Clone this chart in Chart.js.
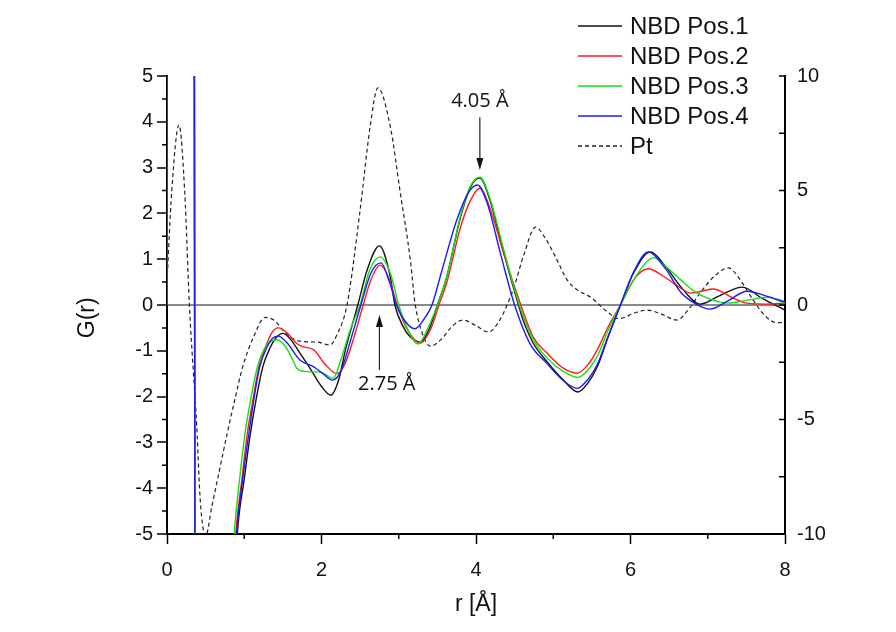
<!DOCTYPE html>
<html>
<head>
<meta charset="utf-8">
<script src="https://cdn.jsdelivr.net/npm/chart.js@4.4.1/dist/chart.umd.min.js"></script>
<style>
  html, body { margin: 0; padding: 0; background: #ffffff; }
  #wrap { width: 896px; height: 632px; }
</style>
</head>
<body>
<div id="wrap"><canvas id="c" width="896" height="632"></canvas></div>
<script>
// ---------------- data ----------------
const seriesNames = ['NBD Pos.1', 'NBD Pos.2', 'NBD Pos.3', 'NBD Pos.4', 'Pt'];

const rPos1 = [0, 0.005, 0.35, 0.365, 0.6, 0.85, 0.91, 1.0, 1.08, 1.16, 1.24, 1.33, 1.42, 1.5, 1.6, 1.72, 1.85, 2.0, 2.12, 2.22, 2.31, 2.47, 2.59, 2.75, 2.89, 2.95, 3.05, 3.15, 3.28, 3.4, 3.5, 3.62, 3.8, 3.93, 4.05, 4.18, 4.35, 4.55, 4.61, 4.74, 4.92, 5.13, 5.32, 5.45, 5.57, 5.71, 5.87, 6.04, 6.26, 6.45, 6.65, 6.9, 7.15, 7.45, 7.7, 8.0];
const gPos1 = [0, 12, 12, -12, -20, -7, -5, -3.8, -2.8, -2.0, -1.35, -0.95, -0.7, -0.62, -0.75, -1.05, -1.38, -1.78, -1.97, -1.65, -0.98, 0, 0.76, 1.29, 0.62, 0, -0.45, -0.7, -0.81, -0.5, 0, 0.61, 1.92, 2.58, 2.77, 2.29, 1.2, 0, -0.33, -0.83, -1.24, -1.64, -1.9, -1.7, -1.35, -0.7, 0, 0.7, 1.16, 0.85, 0.4, 0.02, 0.2, 0.39, 0.15, -0.11];

const rPos2 = [0, 0.005, 0.35, 0.365, 0.6, 0.83, 0.89, 0.97, 1.04, 1.12, 1.19, 1.28, 1.36, 1.44, 1.55, 1.68, 1.76, 1.9, 2.05, 2.2, 2.3, 2.4, 2.54, 2.64, 2.76, 2.88, 2.98, 3.1, 3.28, 3.42, 3.52, 3.62, 3.8, 3.93, 4.05, 4.18, 4.36, 4.58, 4.74, 4.92, 5.13, 5.31, 5.45, 5.57, 5.71, 5.87, 6.04, 6.23, 6.45, 6.65, 6.78, 6.92, 7.07, 7.33, 7.51, 7.75, 8.0];
const gPos2 = [0, 12, 12, -12, -20, -7, -5, -3.8, -2.8, -2.0, -1.35, -0.9, -0.6, -0.5, -0.6, -0.84, -0.91, -0.98, -1.3, -1.5, -1.3, -0.82, 0, 0.55, 0.87, 0.55, 0, -0.5, -0.83, -0.5, 0, 0.48, 1.7, 2.29, 2.55, 2.12, 1.12, 0, -0.7, -1.05, -1.38, -1.49, -1.3, -0.98, -0.48, 0, 0.55, 0.79, 0.6, 0.37, 0.26, 0.3, 0.35, 0.15, 0.04, 0.02, 0.04];

const rPos3 = [0, 0.005, 0.35, 0.365, 0.6, 0.81, 0.87, 0.94, 1.01, 1.09, 1.17, 1.26, 1.34, 1.42, 1.52, 1.6, 1.68, 1.78, 1.89, 2.0, 2.15, 2.25, 2.38, 2.5, 2.62, 2.76, 2.9, 3.0, 3.12, 3.25, 3.38, 3.5, 3.62, 3.8, 3.93, 4.05, 4.18, 4.36, 4.56, 4.74, 4.92, 5.13, 5.32, 5.45, 5.57, 5.71, 5.87, 6.06, 6.3, 6.45, 6.65, 6.85, 7.0, 7.25, 7.5, 7.77, 8.0];
const gPos3 = [0, 12, 12, -12, -20, -7, -5, -3.8, -2.8, -2.0, -1.35, -0.95, -0.8, -0.76, -0.88, -1.1, -1.38, -1.45, -1.46, -1.47, -1.6, -1.2, -0.5, 0, 0.75, 1.05, 0.65, 0, -0.55, -0.85, -0.5, 0, 0.6, 1.95, 2.6, 2.79, 2.33, 1.2, 0, -0.75, -1.16, -1.45, -1.58, -1.42, -1.12, -0.55, 0, 0.6, 1.03, 0.85, 0.55, 0.27, 0.15, 0.04, 0.1, 0.17, 0.04];

const rPos4 = [0, 0.005, 0.35, 0.365, 0.6, 0.84, 0.9, 0.98, 1.06, 1.13, 1.2, 1.3, 1.37, 1.44, 1.55, 1.72, 1.9, 2.02, 2.14, 2.25, 2.38, 2.51, 2.64, 2.77, 2.88, 2.97, 3.08, 3.21, 3.33, 3.43, 3.55, 3.75, 3.9, 4.02, 4.15, 4.32, 4.5, 4.7, 4.92, 5.13, 5.31, 5.45, 5.57, 5.71, 5.87, 6.04, 6.23, 6.45, 6.65, 6.85, 7.03, 7.25, 7.51, 7.75, 8.0];
const gPos4 = [0, 12, 12, -12, -20, -7, -5, -3.8, -2.8, -2.0, -1.35, -0.9, -0.72, -0.68, -0.82, -1.2, -1.35, -1.5, -1.64, -1.45, -0.75, 0, 0.7, 0.92, 0.5, 0, -0.35, -0.52, -0.3, 0, 0.7, 1.85, 2.45, 2.62, 2.2, 1.1, 0, -0.85, -1.28, -1.65, -1.82, -1.62, -1.3, -0.68, 0, 0.72, 1.16, 0.8, 0.28, 0.02, -0.09, 0.08, 0.3, 0.2, 0.07];

const rPt = [0, 0.06, 0.155, 0.23, 0.29, 0.385, 0.43, 0.5, 0.58, 0.68, 0.78, 0.88, 0.98, 1.12, 1.27, 1.4, 1.5, 1.62, 1.76, 1.94, 2.11, 2.2, 2.33, 2.5, 2.63, 2.73, 2.89, 3.02, 3.15, 3.21, 3.3, 3.41, 3.55, 3.7, 3.83, 4.0, 4.16, 4.3, 4.48, 4.62, 4.77, 4.9, 5.05, 5.18, 5.31, 5.48, 5.6, 5.7, 5.85, 6.05, 6.22, 6.4, 6.6, 6.75, 6.9, 7.1, 7.27, 7.42, 7.59, 7.75, 7.9, 8.0];
const gPt = [1.0, 4.9, 7.86, 4.9, 0, -5.3, -8.5, -10.1, -8.8, -7.2, -5.6, -4.1, -2.7, -1.4, -0.54, -0.7, -1.1, -1.45, -1.6, -1.62, -1.75, -1.3, 0, 4.15, 7.8, 9.48, 7.8, 4.9, 1.96, 0.1, -1.2, -1.8, -1.5, -0.9, -0.66, -0.9, -1.18, -0.7, 0.66, 2.2, 3.4, 2.9, 1.96, 1.1, 0.66, 0.35, 0.0, -0.3, -0.6, -0.35, -0.22, -0.4, -0.66, -0.2, 0.52, 1.3, 1.62, 1.1, 0.2, -0.5, -0.78, -0.74];

const xTickLabels = [0, 2, 4, 6, 8];
const annotR = [4.05, 2.75];
const annotLabels = ['4.05 Å', '2.75 Å'];

// ---------------- helpers ----------------
const pts = (rs, gs) => rs.map((r, i) => ({ x: r, y: gs[i] }));
const FONT = '"Liberation Sans", Arial, sans-serif';

const lineDs = (label, rs, gs, color, order) => ({
  label, data: pts(rs, gs), borderColor: color, borderWidth: 1.4,
  pointRadius: 0, fill: false, cubicInterpolationMode: 'monotone',
  yAxisID: 'y', order
});

// ---------------- plugins ----------------
const minorTicks = {
  id: 'minorTicks',
  afterDraw(chart) {
    const { ctx, chartArea: a, scales: { x, y, y2 } } = chart;
    ctx.save();
    ctx.strokeStyle = '#000';
    ctx.lineWidth = 1.5;
    ctx.beginPath();
    for (let v = -4.5; v <= 4.5; v += 1) {
      const py = y.getPixelForValue(v);
      ctx.moveTo(a.left - 5, py); ctx.lineTo(a.left, py);
    }
    for (let v = 1; v <= 7; v += 2) {
      const px = x.getPixelForValue(v);
      ctx.moveTo(px, a.bottom); ctx.lineTo(px, a.bottom + 5);
    }
    for (let v = -10; v <= 10; v += 2.5) {
      const py = y2.getPixelForValue(v);
      ctx.moveTo(a.right - 6, py); ctx.lineTo(a.right, py);
    }
    ctx.stroke();
    ctx.restore();
  }
};

const annotations = {
  id: 'annotations',
  afterDatasetsDraw(chart) {
    const { ctx, scales: { x, y } } = chart;
    ctx.save();
    ctx.font = '20px "Open Sans", "DejaVu Sans", sans-serif';
    ctx.fillStyle = '#111';
    ctx.strokeStyle = '#222';
    ctx.lineWidth = 1.2;
    ctx.textAlign = 'center';
    ctx.textBaseline = 'middle';
    const arrow = (px, yFrom, yTo) => {
      const dir = yTo > yFrom ? 1 : -1;
      ctx.beginPath();
      ctx.moveTo(px, yFrom); ctx.lineTo(px, yTo - dir * 8);
      ctx.stroke();
      ctx.beginPath();
      ctx.moveTo(px, yTo);
      ctx.lineTo(px - 3.5, yTo - dir * 12);
      ctx.lineTo(px + 3.5, yTo - dir * 12);
      ctx.closePath();
      ctx.fill();
    };
    const px1 = x.getPixelForValue(annotR[0]);
    ctx.fillText(annotLabels[0], px1, y.getPixelForValue(4.45));
    arrow(px1, y.getPixelForValue(4.1), y.getPixelForValue(2.95));
    const px2 = x.getPixelForValue(annotR[1]);
    ctx.fillText(annotLabels[1], x.getPixelForValue(annotR[1] + 0.095), y.getPixelForValue(-1.73));
    arrow(px2, y.getPixelForValue(-1.42), y.getPixelForValue(-0.22));
    ctx.restore();
  }
};

const legendBox = {
  id: 'legendBox',
  afterDraw(chart) {
    const ctx = chart.ctx;
    ctx.save();
    ctx.font = '24px ' + FONT;
    ctx.textBaseline = 'middle';
    ctx.textAlign = 'left';
    chart.data.datasets.forEach((ds, i) => {
      const yy = 26 + i * 30;
      ctx.strokeStyle = ds.borderColor;
      ctx.lineWidth = 1.4;
      ctx.setLineDash(ds.borderDash || []);
      ctx.beginPath(); ctx.moveTo(578, yy); ctx.lineTo(622, yy); ctx.stroke();
      ctx.setLineDash([]);
      ctx.fillStyle = '#111';
      ctx.fillText(ds.label, 630, yy + 1);
    });
    ctx.restore();
  }
};

// ---------------- chart ----------------
new Chart(document.getElementById('c'), {
  type: 'line',
  data: {
    datasets: [
      lineDs(seriesNames[0], rPos1, gPos1, '#111111', 4),
      lineDs(seriesNames[1], rPos2, gPos2, '#ff1a1a', 3),
      lineDs(seriesNames[2], rPos3, gPos3, '#10e010', 2),
      lineDs(seriesNames[3], rPos4, gPos4, '#1a1aff', 1),
      {
        label: seriesNames[4], data: pts(rPt, gPt), borderColor: '#222222', borderWidth: 1.2,
        borderDash: [4, 3], pointRadius: 0, fill: false, cubicInterpolationMode: 'monotone',
        yAxisID: 'y2', order: 5
      }
    ]
  },
  options: {
    responsive: false,
    animation: false,
    devicePixelRatio: 1,
    layout: { padding: { top: 76, left: 0, right: 0, bottom: 0 } },
    plugins: { legend: { display: false }, tooltip: { enabled: false } },
    scales: {
      x: {
        type: 'linear', min: 0, max: 8,
        afterBuildTicks: (s) => { s.ticks = xTickLabels.map(v => ({ value: v })); },
        ticks: { font: { family: FONT, size: 20 }, color: '#111', padding: 14, maxRotation: 0 },
        grid: { drawOnChartArea: false, tickLength: 10, tickColor: '#000', tickWidth: 1.5 },
        border: { display: true, color: '#000', width: 2 },
        title: { display: true, text: 'r [Å]', color: '#111', font: { family: FONT, size: 23 }, padding: { top: 0, bottom: 14 } },
        afterFit: (s) => { s.height = 98; }
      },
      y: {
        position: 'left', min: -5, max: 5,
        ticks: { stepSize: 1, font: { family: FONT, size: 20 }, color: '#111', padding: 4 },
        grid: {
          drawOnChartArea: true,
          color: (c) => (c.tick && c.tick.value === 0 ? '#8a8a8a' : 'rgba(0,0,0,0)'),
          lineWidth: (c) => (c.tick && c.tick.value === 0 ? 2 : 0),
          tickColor: '#000', tickLength: 10, tickWidth: 1.5
        },
        border: { display: true, color: '#000', width: 2 },
        title: { display: true, text: 'G(r)    ', color: '#111', font: { family: FONT, size: 23 }, padding: { top: 74, bottom: 0 } },
        afterFit: (s) => { s.width = 167; }
      },
      y2: {
        position: 'right', min: -10, max: 10,
        ticks: { stepSize: 5, font: { family: FONT, size: 20 }, color: '#111', padding: 12 },
        grid: { drawOnChartArea: false, drawTicks: false },
        border: { display: true, color: '#000', width: 2 },
        afterFit: (s) => { s.width = 111; }
      }
    }
  },
  plugins: [minorTicks, annotations, legendBox]
});
</script>
</body>
</html>
